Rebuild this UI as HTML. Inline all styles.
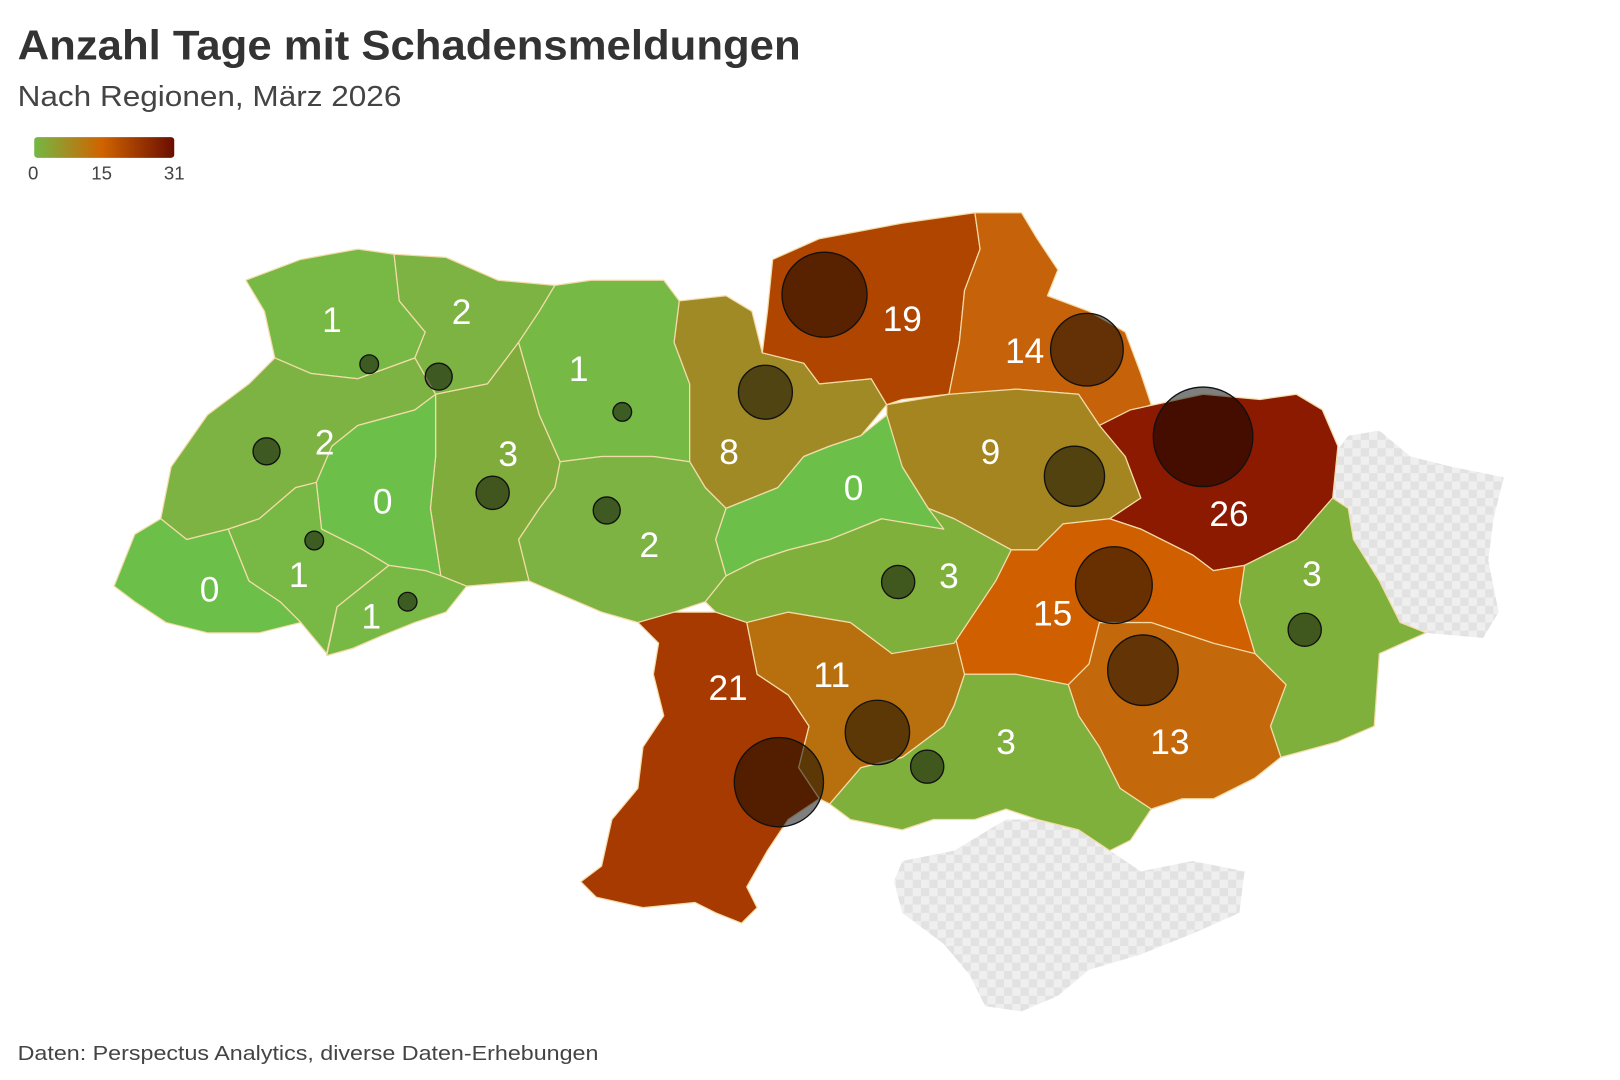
<!DOCTYPE html>
<html><head><meta charset="utf-8"><style>
html,body{margin:0;padding:0;background:#fff;width:1620px;height:1080px;overflow:hidden}
svg{display:block}
text{font-family:"Liberation Sans",sans-serif}
</style></head><body>
<svg width="1620" height="1080" viewBox="0 0 1562 1041" xmlns="http://www.w3.org/2000/svg">
<defs>
<linearGradient id="lg" x1="0" x2="1"><stop offset="0" stop-color="#74b845"/><stop offset="0.48" stop-color="#d06400"/><stop offset="1" stop-color="#6a0d00"/></linearGradient>
<pattern id="chk" width="16" height="16" patternUnits="userSpaceOnUse"><rect width="16" height="16" fill="#efefef"/><rect width="8" height="8" fill="#e2e2e2"/><rect x="8" y="8" width="8" height="8" fill="#e2e2e2"/></pattern>
</defs>
<text x="17" y="57" font-size="40" font-weight="bold" fill="#333" textLength="755" lengthAdjust="spacingAndGlyphs">Anzahl Tage mit Schadensmeldungen</text>
<text x="17" y="102" font-size="28" fill="#444" textLength="370" lengthAdjust="spacingAndGlyphs">Nach Regionen, März 2026</text>
<rect x="33" y="132" width="135" height="20" rx="3" fill="url(#lg)"/>
<text x="32" y="173" font-size="18" fill="#444" text-anchor="middle">0</text>
<text x="98" y="173" font-size="18" fill="#444" text-anchor="middle">15</text>
<text x="168" y="173" font-size="18" fill="#444" text-anchor="middle">31</text>
<g stroke="#f3dca8" stroke-width="1.2" stroke-linejoin="round">
<polygon fill="url(#chk)" stroke="none" points="1285,440 1300,420 1330,415 1360,440 1400,450 1450,460 1440,500 1435,540 1445,590 1430,615 1375,610 1350,600 1330,560 1305,520 1300,490 1285,480"/>
<polygon fill="url(#chk)" stroke="none" points="870,830 920,820 970,790 1000,790 1040,800 1070,820 1100,840 1150,830 1200,840 1195,880 1150,900 1100,920 1050,935 1020,960 985,975 950,970 935,940 910,910 870,880 862,850"/>
<polygon fill="#78b945" points="237,270 290,250 345,240 380,245 385,290 410,320 400,345 345,365 300,360 265,345 255,300"/>
<polygon fill="#7db342" points="380,245 430,248 480,270 535,275 520,300 500,330 470,370 420,380 400,345 410,320 385,290"/>
<polygon fill="#76b945" points="535,275 570,270 640,270 655,290 650,330 665,370 665,445 630,440 580,440 540,445 520,400 500,330 520,300"/>
<polygon fill="#a08a25" points="655,290 700,285 725,300 735,340 775,350 790,370 840,365 855,390 830,420 800,430 775,440 750,470 700,490 680,470 665,445 665,370 650,330"/>
<polygon fill="#b04500" points="745,250 790,230 870,215 940,205 945,240 930,280 925,330 915,380 870,385 855,390 840,365 790,370 775,350 735,340 740,300"/>
<polygon fill="#c6620a" points="940,205 985,205 1000,230 1020,260 1010,285 1050,300 1085,320 1100,360 1110,390 1060,410 1040,380 980,375 930,380 915,380 925,330 930,280 945,240"/>
<polygon fill="#a5851f" points="855,390 915,380 980,375 1040,380 1060,410 1085,440 1100,480 1070,500 1025,505 1000,530 960,530 920,500 895,490 870,450 855,420"/>
<polygon fill="#8b1a00" points="1060,410 1090,395 1160,380 1215,385 1250,380 1275,395 1290,430 1285,480 1250,520 1200,545 1170,550 1150,535 1100,510 1070,500 1100,480 1085,440"/>
<polygon fill="#80b03c" points="1200,545 1250,520 1285,480 1300,490 1305,520 1330,560 1350,600 1375,610 1330,630 1325,700 1290,715 1235,730 1225,700 1240,660 1210,630 1195,580"/>
<polygon fill="#c4680c" points="1060,600 1110,600 1170,620 1210,630 1240,660 1225,700 1235,730 1210,750 1170,770 1140,770 1110,780 1080,760 1060,720 1040,690 1030,660 1050,640"/>
<polygon fill="#d05f00" points="920,500 960,530 1000,530 1025,505 1070,500 1100,510 1150,535 1170,550 1200,545 1195,580 1210,630 1170,620 1110,600 1060,600 1050,640 1030,660 980,650 930,650 920,620 940,590 960,560 975,530"/>
<polygon fill="#80b03c" points="930,650 980,650 1030,660 1040,690 1060,720 1080,760 1110,780 1090,810 1070,820 1040,800 1000,790 970,780 940,790 900,790 870,800 820,790 800,775 830,740 870,730 910,700 920,680"/>
<polygon fill="#b8700f" points="720,600 760,590 820,600 860,630 920,610 930,650 920,680 910,700 870,730 830,740 800,775 790,770 770,740 780,700 760,670 730,650"/>
<polygon fill="#a63a00" points="615,600 650,590 690,590 720,600 730,650 760,670 780,700 770,740 790,770 760,790 740,820 720,855 730,875 715,890 690,880 670,870 620,875 575,865 560,850 580,835 590,790 615,760 620,720 640,690 630,650 635,620"/>
<polygon fill="#80b03c" points="680,580 700,555 730,540 760,530 800,520 850,500 895,490 920,500 975,530 960,560 940,590 920,620 860,630 820,600 760,590 720,600 690,590"/>
<polygon fill="#6cc04a" points="700,490 750,470 775,440 800,430 830,420 855,400 870,450 895,490 910,510 850,500 800,520 760,530 730,540 700,555 690,520"/>
<polygon fill="#7db342" points="540,445 580,440 630,440 665,445 680,470 700,490 690,520 700,555 680,580 650,590 615,600 580,590 545,575 510,560 500,520 520,490 535,470"/>
<polygon fill="#80ac3c" points="420,380 470,370 500,330 520,400 540,445 535,470 520,490 500,520 510,560 450,565 425,555 415,490 420,440"/>
<polygon fill="#6cc04a" points="345,410 400,395 420,380 420,440 415,490 425,555 410,550 375,545 350,530 310,510 305,465 320,430"/>
<polygon fill="#7db342" points="265,345 300,360 345,365 400,345 420,380 400,395 345,410 320,430 305,465 285,470 250,500 220,510 180,520 155,500 165,450 200,400 240,370"/>
<polygon fill="#78b945" points="220,510 250,500 285,470 305,465 310,510 350,530 375,545 350,565 325,585 315,630 290,600 270,580 240,560"/>
<polygon fill="#78b945" points="375,545 410,550 425,555 450,565 430,590 400,600 370,612 340,625 315,632 322,600 325,585 350,565"/>
<polygon fill="#6cc04a" points="110,565 130,515 155,500 180,520 220,510 240,560 270,580 290,600 250,610 200,610 160,600 130,580"/>
</g>
<g fill="rgba(0,0,0,0.5)" stroke="#111" stroke-width="1.3">
<circle cx="795" cy="284" r="41"/><circle cx="1048" cy="337" r="35"/><circle cx="738" cy="378" r="26"/>
<circle cx="1160" cy="421" r="48"/><circle cx="1036" cy="459" r="29"/><circle cx="1074" cy="564" r="37"/>
<circle cx="1102" cy="646" r="34"/><circle cx="846" cy="706" r="31"/><circle cx="751" cy="754" r="43"/>
<circle cx="894" cy="739" r="16"/><circle cx="866" cy="561" r="16"/><circle cx="1258" cy="607" r="16"/>
<circle cx="475" cy="475" r="16"/><circle cx="585" cy="492" r="13"/><circle cx="423" cy="363" r="13"/>
<circle cx="356" cy="351" r="9"/><circle cx="257" cy="435" r="13"/><circle cx="303" cy="521" r="9"/>
<circle cx="393" cy="580" r="9"/><circle cx="600" cy="397" r="9"/>
</g>
<g fill="#fff" font-size="34" text-anchor="middle">
<text x="320" y="320">1</text><text x="445" y="312">2</text><text x="558" y="367">1</text>
<text x="703" y="447">8</text><text x="870" y="319">19</text><text x="988" y="350">14</text>
<text x="955" y="447">9</text><text x="1185" y="507">26</text><text x="1265" y="565">3</text>
<text x="1128" y="727">13</text><text x="1015" y="603">15</text><text x="970" y="727">3</text>
<text x="802" y="662">11</text><text x="702" y="675">21</text><text x="915" y="567">3</text>
<text x="823" y="482">0</text><text x="626" y="537">2</text><text x="490" y="449">3</text>
<text x="369" y="495">0</text><text x="313" y="438">2</text><text x="288" y="566">1</text>
<text x="358" y="606">1</text><text x="202" y="580">0</text>
</g>
<text x="17" y="1022" font-size="20" fill="#444" textLength="560" lengthAdjust="spacingAndGlyphs">Daten: Perspectus Analytics, diverse Daten-Erhebungen</text>
</svg>
</body></html>
